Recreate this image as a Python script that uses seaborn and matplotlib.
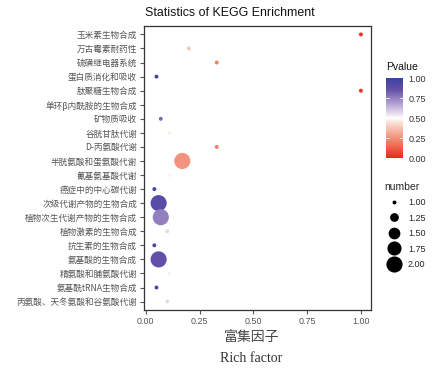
import numpy as np
import pandas as pd
import matplotlib
matplotlib.use("Agg")
import matplotlib.pyplot as plt
from matplotlib.colors import LinearSegmentedColormap, Normalize
from matplotlib.lines import Line2D
import seaborn as sns

pathways = ["玉米素生物合成", "万古霉素耐药性", "硫磺继电器系统", "蛋白质消化和吸收",
            "肽聚糖生物合成", "单环β内酰胺的生物合成", "矿物质吸收", "谷胱甘肽代谢",
            "D-丙氨酸代谢", "半胱氨酸和蛋氨酸代谢", "氰基氨基酸代谢", "癌症中的中心碳代谢",
            "次级代谢产物的生物合成", "植物次生代谢产物的生物合成", "植物激素的生物合成",
            "抗生素的生物合成", "氨基酸的生物合成", "精氨酸和脯氨酸代谢", "氨基酰tRNA生物合成",
            "丙氨酸、天冬氨酸和谷氨酸代谢"]
rich_factor = [1.0, 0.20, 0.33, 0.05, 1.0, 0.10, 0.07, 0.11, 0.33, 0.17,
               0.11, 0.04, 0.06, 0.07, 0.10, 0.04, 0.06, 0.11, 0.05, 0.10]
pvalue = [0.02, 0.38, 0.20, 0.97, 0.02, 0.50, 0.80, 0.47, 0.20, 0.26,
          0.48, 0.95, 0.90, 0.75, 0.56, 0.95, 0.87, 0.52, 0.95, 0.56]
number = [1, 1, 1, 1, 1, 1, 1, 1, 1, 2, 1, 1, 2, 2, 1, 1, 2, 1, 1, 1]
cbar_ticks = [0.0, 0.25, 0.5, 0.75, 1.0]
size_ticks = [1.0, 1.25, 1.5, 1.75, 2.0]
x_ticks = [0.0, 0.25, 0.5, 0.75, 1.0]

df = pd.DataFrame({"pathway": pathways, "rich": rich_factor,
                   "p": pvalue, "number": number})
df["pos"] = np.arange(len(df))

sns.set_theme(style="white")
plt.rcParams["font.family"] = ["Noto Sans CJK SC", "DejaVu Sans"]

cmap = LinearSegmentedColormap.from_list("pv", [
    (0.0, "#E8281E"), (0.15, "#EE6A50"), (0.3, "#F4A48E"), (0.45, "#FBE3DC"),
    (0.5, "#FFFFFF"), (0.55, "#EADFEE"), (0.7, "#A898CC"), (0.85, "#6652A8"),
    (1.0, "#3A42A2")])
norm = Normalize(0, 1)
S_MIN, S_MAX = 8, 135

fig = plt.figure(figsize=(4.33, 3.71), dpi=100)
ax = fig.add_axes([144/433, 1-310/371, (371-144)/433, (310-26)/371])
sns.scatterplot(data=df, x="rich", y="pos", hue="p", palette=cmap, hue_norm=(0, 1),
                size="number", sizes=(S_MIN, S_MAX), size_norm=(1, 2),
                legend=False, linewidth=0, ax=ax)
ax.set_ylim(len(df) - 0.4, -0.6)
ax.set_xlim(-0.008, 1.047)
ax.set_yticks(df["pos"])
ax.set_yticklabels(pathways)
ax.set_xticks(x_ticks)
ax.set_xticklabels([f"{t:.2f}" for t in x_ticks], family=["Liberation Sans"])
ax.tick_params(axis="y", labelsize=6.2, colors="#555555", length=3, width=0.8,
               left=True, pad=2)
ax.tick_params(axis="x", labelsize=6.4, colors="#555555", length=3, width=0.8,
               bottom=True, pad=2)
ax.set_xlabel("")
ax.set_ylabel("")
for sp in ax.spines.values():
    sp.set_color("#333333")
    sp.set_linewidth(0.9)

fig.text(145/433, 1-13/371, "Statistics of KEGG Enrichment", ha="left", va="center",
         fontsize=8.9, family=["Liberation Sans"], color="#111111")
fig.text(252/433, 1-337/371, "富集因子", ha="center", va="center", fontsize=10,
         color="#444444")
fig.text(251/433, 1-359/371, "Rich factor", ha="center", va="center", fontsize=10,
         family=["Liberation Serif"], color="#333333")

# colorbar legend
cax = fig.add_axes([386/433, 1-158/371, 17/433, 80/371])
sm = plt.cm.ScalarMappable(norm=norm, cmap=cmap)
cb = fig.colorbar(sm, cax=cax, ticks=cbar_ticks)
cb.outline.set_visible(False)
cb.ax.tick_params(labelsize=6.5, colors="#333333", length=0, pad=4)
cb.ax.set_yticklabels([f"{t:.2f}" for t in cbar_ticks], family=["Liberation Sans"])
for t in cbar_ticks[1:-1]:
    cb.ax.axhline(t, xmin=0, xmax=0.2, color="white", lw=0.6)
    cb.ax.axhline(t, xmin=0.8, xmax=1, color="white", lw=0.6)
fig.text(386/433, 1-67/371, "Pvalue", ha="left", va="center", fontsize=7.5,
         family=["Liberation Sans"], color="#111111")

# size legend
handles = []
for v in size_ticks:
    s = S_MIN + (S_MAX - S_MIN) * (v - 1) / (2 - 1)
    handles.append(Line2D([], [], marker="o", linestyle="", color="black",
                          markersize=np.sqrt(s), markeredgewidth=0,
                          label=f"{v:.2f}"))
leg = fig.legend(handles=handles, loc="upper left", bbox_to_anchor=(380/433, 1-177/371),
                 frameon=False, title="number", title_fontsize=7.5,
                 labelspacing=0.72, handletextpad=0.6, borderpad=0,
                 prop={"family": "Liberation Sans", "size": 6.5})
leg.get_title().set_family("Liberation Sans")
leg._legend_box.align = "left"

fig.savefig("out.png", dpi=100, facecolor="white")
